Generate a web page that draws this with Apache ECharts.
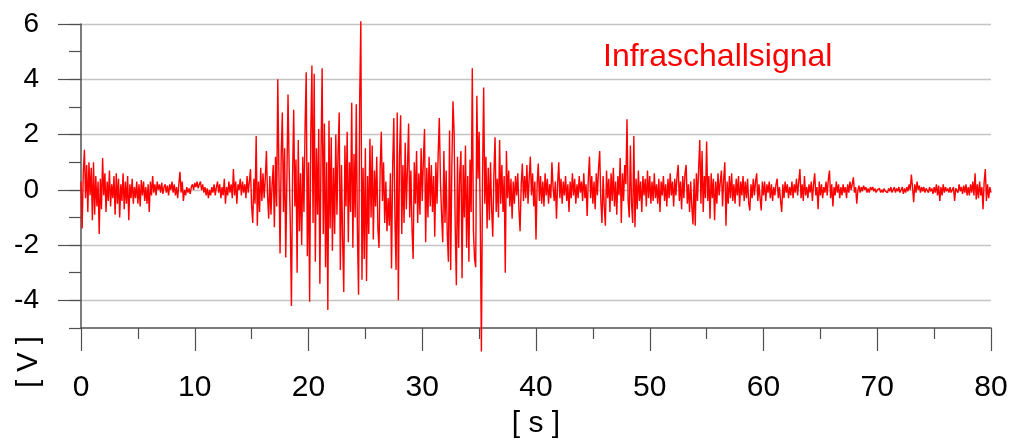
<!DOCTYPE html>
<html>
<head>
<meta charset="utf-8">
<title>Infraschallsignal</title>
<script src="https://cdn.jsdelivr.net/npm/echarts@6/dist/echarts.min.js"></script>
<style>
    html, body { margin: 0; padding: 0; background: #fff; }
    #chart { width: 1014px; height: 444px; }
</style>
</head>
<body>
<div id="chart"></div>
<script>
// Abtastschritt in s
var dt = 0.1;
// beschriftete Werte der Y-Achse [V]
var yMajor = [-4, -2, 0, 2, 4, 6];

// Signal [V], je 10 s ein Block
var sig0 = [
    0.3, -1.4, 0.6, 1.45, -0.3, 0.9, -0.8, 1.0, -0.2, 0.8,
    -1.1, 1.0, -0.9, 0.5, -0.6, 0.3, -1.6, 0.4, -0.7, 1.15,
    -0.2, 0.6, -0.8, 0.3, -0.4, 0.7, -0.6, 0.2, -0.3, 0.5,
    -0.9, 0.6, -0.5, 0.4, -1.0, 0.2, -0.4, 0.6, -0.7, 0.3,
    -0.5, 0.5, -1.1, 0.2, -0.3, 0.4, -0.5, 0.1, -0.3, 0.3,
    -0.5, 0.2, -0.6, 0.35, -0.2, 0.3, -0.4, 0.1, -0.5, 0.2,
    -0.8, 0.3, -0.2, 0.5, -0.1, 0.2, -0.2, 0.3, 0.0, 0.2,
    -0.1, 0.25, -0.15, 0.1, 0.2, -0.1, 0.15, -0.2, 0.2, 0.0,
    0.3, -0.1, 0.2, -0.2, 0.1, -0.3, 0.2, 0.65, -0.1, 0.3,
    -0.4, 0.0, -0.2, 0.1, -0.1, 0.05, -0.15, 0.1, 0.2, 0.0
];
var sig1 = [
    0.25, 0.1, 0.3, 0.05, 0.2, 0.3, 0.0, 0.2, -0.1, 0.1,
    -0.2, 0.05, -0.3, 0.0, -0.2, 0.1, -0.1, 0.2, -0.2, 0.1,
    0.3, -0.1, 0.2, -0.3, 0.1, -0.2, 0.4, -0.5, 0.1, -0.2,
    0.3, -0.1, 0.2, -0.3, 0.75, -0.2, 0.3, -0.5, 0.2, 0.0,
    0.4, -0.2, 0.3, -0.1, 0.2, -0.3, 0.5, -0.1, 0.3, 0.75,
    -0.6, -1.2, 0.4, -0.5, 1.95, -1.3, 0.3, -0.8, 0.8, -0.4,
    0.6, -0.3, 0.4, 1.4, -0.2, -1.05, 0.5, -0.9, 0.2, 0.9,
    -1.35, 1.2, -0.6, 4.0, 0.6, -2.3, 1.3, 2.8, -0.8, 1.5,
    -2.45, 0.4, 3.45, 0.8, -1.2, -4.2, 0.5, 2.9, -0.6, 1.1,
    -3.0, 1.8, -1.5, 0.6, -2.0, 1.2, -0.8, 2.3, 4.25, -2.4
];
var sig2 = [
    1.0, -4.05, 2.0, 4.5, -1.2, 4.2, -2.6, 1.5, -0.9, 2.2,
    -3.4, 1.3, 4.4, -1.6, 2.4, -2.8, 1.0, -4.35, 2.5, -1.4,
    1.9, -2.2, 0.8, -1.6, 2.0, -0.9, 1.4, 2.8, -2.9, 0.9,
    -1.8, -3.7, 1.6, -0.6, 2.1, -1.9, 1.0, -0.8, 3.15, -2.1,
    1.3, -1.0, 3.1, -1.5, -3.8, 3.3, 6.1, -3.25, 0.8, -2.5,
    1.5, -3.3, 0.5, -1.6, 1.85, -1.0, 1.6, -1.8, 0.7, -0.6,
    1.2, -1.4, -2.1, 0.8, 2.1, -0.4, 1.0, -1.2, 0.3, -1.5,
    -0.3, -1.3, 0.6, -2.85, 0.9, 2.6, -1.1, -2.9, 2.8, -4.0,
    1.2, 2.7, -1.6, 0.9, -1.2, 1.7, -0.7, 0.8, 2.4, -1.0,
    0.7, -1.4, -2.5, 1.0, -0.5, 1.4, -1.2, 0.6, -0.9, 1.5
];
var sig3 = [
    -0.4, 1.1, 2.2, -1.9, 0.8, -1.0, 1.2, -0.6, 0.9, -0.8,
    0.5, -1.7, 1.0, -0.5, 1.3, 2.6, 0.3, -0.9, -1.9, 1.4,
    -1.2, 0.7, -1.6, -2.6, 2.15, -2.9, 0.8, 3.2, 2.1, -1.4,
    -3.45, 1.2, -2.1, 0.6, 1.4, -3.2, 0.9, -1.0, 1.6, -2.1,
    0.5, -2.6, 1.1, -0.8, 4.4, -1.5, -2.5, -2.8, 3.4, 0.4,
    2.1, -1.0, -5.85, 0.5, 3.7, -0.5, 1.2, -1.4, 0.8, -1.1,
    1.0, -0.7, -1.7, 0.6, 1.9, -0.8, 0.4, -1.0, 1.8, -0.5,
    0.9, -0.8, 0.5, -3.0, 1.4, -0.3, 0.7, -0.6, 0.4, -1.05,
    0.3, -0.5, 0.5, -0.2, 0.6, -0.7, -1.5, 0.2, 0.95, -0.4,
    0.5, -0.3, 0.9, -0.5, 0.4, 1.2, -0.2, 0.6, -0.6, 0.3
];
var sig4 = [
    -1.8, 0.2, 0.95, -0.4, 0.5, -0.5, 0.3, -0.6, 0.6, -0.2,
    0.4, -0.5, 0.2, -0.3, 1.0, 0.1, -0.4, 0.3, -1.05, 0.2,
    1.0, -0.3, 0.4, -0.5, 0.3, -0.2, 0.5, -0.4, 0.2, -0.8,
    0.3, -0.3, 0.6, -0.2, 0.4, -0.5, 0.2, -0.3, 0.5, -0.1,
    0.3, -0.4, 0.6, -0.3, 0.2, -0.95, 0.4, 1.2, -0.3, 0.5,
    -0.5, 0.3, -0.7, 0.6, -0.2, 0.8, 1.4, -0.4, -1.2, 0.5,
    -0.6, -1.3, 0.7, -0.3, 0.4, -0.8, 0.6, -0.4, 0.8, -0.6,
    0.3, -0.9, 0.5, -0.2, 1.15, -1.2, 0.6, -0.4, 0.9, 0.2,
    2.55, -0.4, -1.0, 1.6, -0.5, -1.2, 1.95, -1.35, 0.4, -0.7,
    0.7, -0.4, 0.3, -0.8, 0.5, -0.2, 0.4, -0.6, 0.7, -0.3
];
var sig5 = [
    0.5, -0.5, 0.3, -0.4, 0.6, -0.3, 0.2, -0.5, 0.4, -0.8,
    0.3, -0.2, 0.5, -0.4, 0.2, -0.6, 0.4, -0.3, 0.6, -0.2,
    0.3, -0.6, 0.4, -0.2, 0.5, 0.9, -0.4, 0.3, -0.7, 0.5,
    -0.3, 0.6, 0.9, -0.5, 0.2, -0.8, 0.3, -0.6, -1.25, 0.4,
    -1.3, 0.6, -0.4, 0.8, 1.8, -0.5, 1.4, -0.8, 0.5, -0.3,
    1.75, -0.4, 0.5, -1.05, 0.6, -0.3, 0.4, -1.1, 0.3, -0.5,
    0.6, -0.2, 0.3, 0.7, -0.6, 0.4, 1.0, -1.3, 0.3, -0.5,
    0.5, -0.3, 0.6, -0.4, 0.2, -0.5, 0.4, -0.2, 0.5, -0.6,
    0.3, -0.2, 0.5, -0.4, 0.3, -0.3, 0.4, -0.5, -0.75, 0.2,
    -0.3, 0.4, -0.2, 0.3, 0.6, -0.4, 0.2, -0.3, -0.75, 0.3
];
var sig6 = [
    -0.2, 0.3, -0.4, 0.2, -0.1, 0.3, -0.3, 0.2, -0.4, 0.1,
    -0.2, 0.2, 0.4, -0.3, 0.1, -0.4, -0.8, 0.2, -0.3, 0.3,
    -0.1, 0.2, -0.3, 0.1, -0.2, 0.3, -0.3, 0.2, -0.1, 0.4,
    -0.2, 0.3, 0.75, -0.3, 0.2, -0.4, 0.5, -0.2, 0.1, -0.3,
    0.2, -0.1, 0.3, -0.4, 0.2, 0.6, -0.2, 0.1, -0.7, 0.3,
    -0.2, 0.2, -0.3, 0.1, -0.1, 0.3, -0.2, 0.4, 0.7, -0.3,
    0.2, -0.6, 0.1, -0.2, 0.3, -0.1, 0.2, -0.3, 0.1, -0.2,
    0.2, -0.1, 0.1, -0.3, 0.2, -0.1, 0.3, 0.0, 0.2, 0.45,
    -0.1, 0.1, -0.5, 0.0, 0.15, -0.1, 0.1, -0.05, 0.15, 0.0,
    0.1, -0.1, 0.05, -0.1, 0.1, 0.0, 0.1, -0.05, 0.05, -0.1
];
var sig7 = [
    0.0, -0.05, 0.05, -0.1, 0.0, -0.1, 0.05, -0.05, 0.0, -0.1,
    0.05, -0.05, 0.1, -0.1, 0.0, 0.1, -0.1, 0.05, -0.05, 0.1,
    -0.1, 0.0, 0.1, -0.15, 0.05, -0.1, 0.1, -0.05, 0.2, 0.0,
    0.55, 0.1, -0.45, 0.2, -0.1, 0.3, 0.0, 0.15, -0.1, 0.1,
    -0.05, 0.1, -0.1, 0.05, 0.0, -0.1, 0.1, -0.05, 0.05, -0.15,
    0.1, -0.1, 0.2, -0.2, 0.15, -0.4, 0.1, -0.2, 0.2, -0.1,
    0.1, -0.05, 0.05, -0.1, 0.1, -0.1, 0.0, 0.1, -0.4, 0.05,
    0.1, -0.1, 0.2, -0.05, 0.1, -0.15, 0.15, -0.1, 0.2, -0.2,
    0.1, -0.2, 0.2, -0.1, 0.3, -0.2, 0.6, -0.35, 0.2, -0.3,
    0.3, -0.2, 0.1, -0.7, 0.3, 0.75, -0.4, 0.2, -0.3, 0.1,
    -0.1
];

$(function () {
    initChart();
});

function $(fn) {
    if (document.readyState === 'loading') {
        document.addEventListener('DOMContentLoaded', fn);
    } else {
        fn();
    }
}

function initChart() {
    var values = sig0.concat(sig1, sig2, sig3, sig4, sig5, sig6, sig7);
    var data = values.map(function (v, i) {
        return [Math.round(i * dt * 10) / 10, v];
    });

    var font = "'Liberation Sans', Arial, sans-serif";
    var axisColor = '#505050';

    var dom = document.getElementById('chart');
    var myChart = echarts.init(dom);

    var option = {
        animation: false,
        grid: {
            left: 81,
            right: 23,
            top: 24,
            bottom: 111
        },
        xAxis: {
            type: 'value',
            min: 0,
            max: 80,
            interval: 10,
            axisLine: {
                onZero: false,
                lineStyle: { color: axisColor, width: 1.5 }
            },
            axisTick: {
                length: 23,
                lineStyle: { color: axisColor, width: 1.2 }
            },
            minorTick: {
                show: true,
                splitNumber: 2,
                length: 11,
                lineStyle: { color: axisColor, width: 1.2 }
            },
            axisLabel: {
                fontSize: 30,
                fontFamily: font,
                color: '#000',
                margin: 45
            },
            splitLine: { show: false },
            name: '[ s ]',
            nameLocation: 'middle',
            nameGap: 81,
            nameTextStyle: {
                fontSize: 30,
                fontFamily: font,
                color: '#000'
            }
        },
        yAxis: [
            {
                type: 'value',
                min: -5,
                max: 6,
                interval: 1,
                axisLine: {
                    show: true,
                    onZero: false,
                    lineStyle: { color: axisColor, width: 1.5 }
                },
                axisTick: {
                    length: 12,
                    lineStyle: { color: axisColor, width: 1.2 }
                },
                axisLabel: { show: false },
                splitLine: {
                    show: true,
                    lineStyle: {
                        color: ['rgba(0,0,0,0)', '#c4c4c4'],
                        width: 1.3
                    }
                }
            },
            {
                type: 'value',
                min: -5,
                max: 6,
                position: 'left',
                axisLine: { show: false },
                axisTick: {
                    show: true,
                    length: 23,
                    customValues: yMajor,
                    lineStyle: { color: axisColor, width: 1.2 }
                },
                axisLabel: {
                    customValues: yMajor,
                    fontSize: 28,
                    fontFamily: font,
                    color: '#000',
                    margin: 42
                },
                splitLine: { show: false }
            }
        ],
        graphic: [
            {
                type: 'text',
                left: 603,
                top: 41,
                style: {
                    text: 'Infraschallsignal',
                    fill: '#ff0000',
                    font: '32px ' + font
                }
            },
            {
                type: 'text',
                x: 29,
                y: 362,
                rotation: Math.PI / 2,
                style: {
                    text: '[ V ]',
                    fill: '#000',
                    font: '29px ' + font,
                    align: 'center',
                    verticalAlign: 'middle'
                }
            }
        ],
        series: [
            {
                name: 'Infraschallsignal',
                type: 'line',
                yAxisIndex: 0,
                data: data,
                symbol: 'none',
                showSymbol: false,
                clip: false,
                z: 3,
                lineStyle: { color: '#ff0000', width: 1.4 }
            }
        ]
    };

    if (option && typeof option === 'object') {
        myChart.setOption(option);
        window.addEventListener('resize', function () {
            myChart.resize();
        });
    }
}
</script>
</body>
</html>
